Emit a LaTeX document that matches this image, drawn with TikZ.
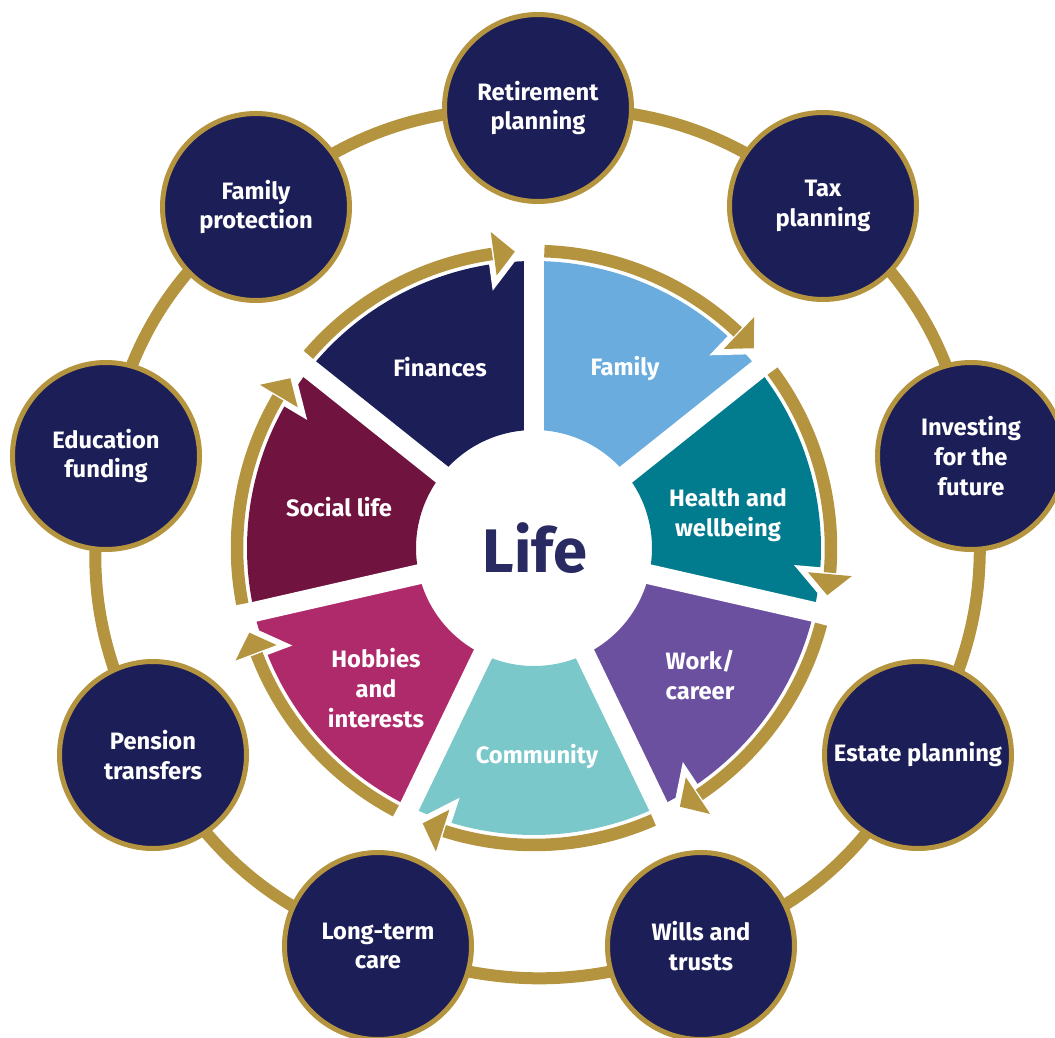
\documentclass[tikz,border=0pt]{standalone}
\usepackage{fontspec}
\setmainfont{Fira Sans}
\usetikzlibrary{backgrounds}

\definecolor{navy}{HTML}{1C1E57}
\definecolor{gold}{HTML}{B5943F}
\definecolor{lifeblue}{HTML}{2A2A62}
\definecolor{famblue}{HTML}{6AACDE}
\definecolor{healthteal}{HTML}{007C8E}
\definecolor{workpurple}{HTML}{6B50A0}
\definecolor{commteal}{HTML}{7AC8C9}
\definecolor{hobbypink}{HTML}{AF2A6B}
\definecolor{socialred}{HTML}{70133F}

\begin{document}
\begin{tikzpicture}[x=0.2mm, y=0.2mm]
  \tikzstyle{topic}=[circle, draw=gold, line width=1mm, fill=navy, minimum size=37.4mm,
    inner sep=0pt, text=white, align=center, font=\bfseries\fontsize{13.5}{17}\selectfont];
  \tikzstyle{area}=[text=white, align=center, font=\bfseries\fontsize{13.5}{17}\selectfont];
  \tikzstyle{ring}=[draw=gold, line width=2.4mm];

  \useasboundingbox (-534,-489) rectangle (521,548);

  % outer topics
  \node[topic] (ret) at (4, 440) {Retirement\\planning};
  \node[topic] (tax) at (289, 342) {Tax\\planning};
  \node[topic] (inv) at (437, 92) {Investing\\for the\\future};
  \node[topic] (est) at (384, -207) {Estate planning};
  \node[topic] (wil) at (167, -398) {Wills and\\trusts};
  \node[topic] (ltc) at (-156, -398) {Long-term\\care};
  \node[topic] (pen) at (-381, -207) {Pension\\transfers};
  \node[topic] (edu) at (-428, 92) {Education\\funding};
  \node[topic] (fam) at (-278, 341) {Family\\protection};

  % ring between topics
  \begin{scope}[on background layer]
    \foreach \u/\v in {ret/tax, tax/inv, inv/est, est/wil, wil/ltc, ltc/pen, pen/edu, edu/fam, fam/ret}
      \draw[ring] (\u.center) to[bend left=20] (\v.center);
  \end{scope}

  % segments of the wheel
  \foreach \i/\col in {0/famblue, 1/healthteal, 2/workpurple, 3/commteal, 4/hobbypink, 5/socialred, 6/navy} {
    \pgfmathsetmacro\a{90-\i*360/7}
    \pgfmathsetmacro\b{\a-360/7}
    \fill[\col] (\a:118) arc[start angle=\a, end angle=\b, radius=118]
      -- (\b:287) arc[start angle=\b, end angle=\a, radius=287] -- cycle;
  }

  % gaps
  \foreach \i in {0,...,6}
    \draw[white, line width=4mm] (0,0) -- (90-\i*360/7:295);

  % arrows round the wheel
  \foreach \i in {0,...,6} {
    \pgfmathsetmacro\a{90-\i*360/7}
    \pgfmathsetmacro\b{\a-360/7}
    \pgfmathsetmacro\t{\b+3.7}
    \pgfmathsetmacro\h{\b+7.8}
    \draw[white, line width=2.4mm] (\t:297) -- (\h:275) -- (\h:319) -- cycle;
    \draw[gold, line width=2.5mm] (\a-2:297) arc[start angle=\a-2, end angle=\h+0.3, radius=297];
    \fill[gold] (\t:297) -- (\h:275) -- (\h:319) -- cycle;
  }

  % labels
  \node[area] (family) at (91, 179) {Family};
  \node[area] (health) at (194, 33) {Health and\\wellbeing};
  \node[area] (work) at (166, -127) {Work/\\career};
  \node[area] (community) at (3, -209) {Community};
  \node[area] (hobbies) at (-158, -140) {Hobbies\\and\\interests};
  \node[area] (social) at (-195, 41) {Social life};
  \node[area] (finances) at (-94, 181) {Finances};
  \node[text=lifeblue, font=\bfseries\fontsize{35}{40}\selectfont] (life) at (1, 0) {Life};
\end{tikzpicture}
\end{document}
